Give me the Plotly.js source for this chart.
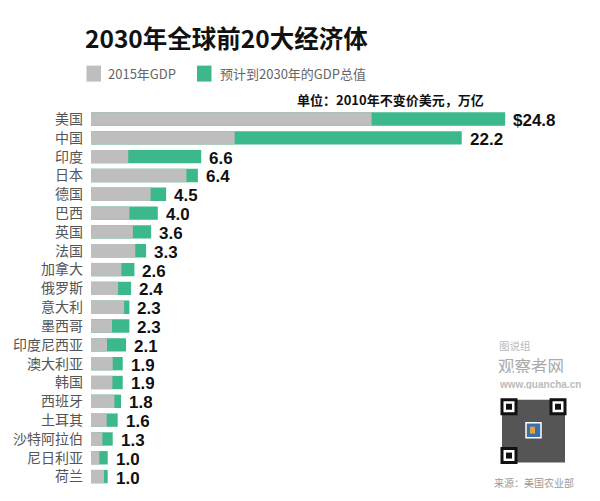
<!DOCTYPE html>
<html>
<head>
<meta charset="utf-8">
<script src="https://cdn.plot.ly/plotly-3.0.1.min.js"></script>
<style>html,body{margin:0;padding:0;background:#fff;}#chart{width:600px;height:501px;}</style>
</head>
<body>
<div id="chart"></div>
<script>
const countries = ["美国","中国","印度","日本","德国","巴西","英国","法国","加拿大","俄罗斯","意大利","墨西哥","印度尼西亚","澳大利亚","韩国","西班牙","土耳其","沙特阿拉伯","尼日利亚","荷兰"];
const gdp2015 = [16.8,8.6,2.23,5.71,3.57,2.3,2.51,2.65,1.82,1.62,1.98,1.26,0.96,1.3,1.28,1.4,0.94,0.68,0.5,0.78];
const gdp2030 = [24.8,22.2,6.6,6.4,4.5,4.0,3.6,3.3,2.6,2.4,2.3,2.3,2.1,1.9,1.9,1.8,1.6,1.3,1.0,1.0];
const valueLabels = ["$24.8","22.2","6.6","6.4","4.5","4.0","3.6","3.3","2.6","2.4","2.3","2.3","2.1","1.9","1.9","1.8","1.6","1.3","1.0","1.0"];
const legendNames = ["2015年GDP","预计到2030年的GDP总值"];

const GRAY = "#bfbebe", GREEN = "#3cb98a";
const CJK = "'Noto Sans CJK SC', 'Noto Sans', sans-serif";
const W = 600, H = 501, L = 91, R = 9, T = 108.5, B = 14.5;
const plotW = W - L - R, plotH = H - T - B;
const fx = px => (px - L) / plotW;
const fy = py => (H - B - py) / plotH;

const traces = [
  {type:"bar", orientation:"h", y:countries, x:gdp2030, name:legendNames[1],
   marker:{color:GREEN}, hoverinfo:"x+y"},
  {type:"bar", orientation:"h", y:countries, x:gdp2015, name:legendNames[0],
   marker:{color:GRAY}, hoverinfo:"x+y"}
];

const annotations = valueLabels.map((t,i)=>({
  x: gdp2030[i], y: countries[i], xref:"x", yref:"y", text:t, showarrow:false,
  xanchor:"left", yanchor:"middle", xshift:7, yshift:-1, height:16, borderpad:0,
  font:{family:"'Liberation Sans', Arial, sans-serif", size:17, color:"#111", weight:"bold"}
}));

function txt(text, px, py, opts){
  return Object.assign({text:text, x:fx(px), y:fy(py), xref:"paper", yref:"paper",
    showarrow:false, xanchor:"left", yanchor:"middle", borderpad:0}, opts);
}
annotations.push(txt(legendNames[0], 107, 73, {font:{family:CJK, size:13, color:"#666"}}));
annotations.push(txt(legendNames[1], 219, 73, {font:{family:CJK, size:13, color:"#666"}}));
annotations.push(txt("单位：2010年不变价美元，万亿", 485, 99, {xanchor:"right", font:{family:CJK, size:13, color:"#111", weight:"bold"}}));
annotations.push(txt("图说组", 498, 346, {height:11, font:{family:CJK, size:10.5, color:"#bbb"}}));
annotations.push(txt("观察者网", 497, 366, {height:15, font:{family:CJK, size:16.5, color:"#aaa"}}));
annotations.push(txt("www.guancha.cn", 498, 385, {height:9, font:{family:"'Liberation Sans Narrow', 'Liberation Sans', Arial, sans-serif", size:10, color:"#bbb", weight:"bold"}}));
annotations.push(txt("来源：美国农业部", 493, 483, {font:{family:CJK, size:10, color:"#999"}}));

function rect(x0,y0,x1,y1,fill,line){
  return {type:"rect", xref:"paper", yref:"paper", x0:fx(x0), x1:fx(x1), y0:fy(y1), y1:fy(y0),
    fillcolor:fill, line:{width:line?line.w:0, color:line?line.c:fill}, layer:"above"};
}
const shapes = [
  rect(86.5,65,101,81,GRAY),
  rect(197,65,211.5,81,GREEN),
  // QR code block approximation
  rect(502,400,565,463,"#555"),
  rect(502,400,516,414,"#fff",{w:3,c:"#111"}),
  rect(506,404,512,410,"#111"),
  rect(551,400,565,414,"#fff",{w:3,c:"#111"}),
  rect(555,404,561,410,"#111"),
  rect(502,449,516,463,"#fff",{w:3,c:"#111"}),
  rect(506,453,512,459,"#111"),
  rect(526,423,541,438,"#3a6fb0",{w:1.5,c:"#fff"}),
  rect(530,427,535,434,"#e8a23a")
];

const layout = {
  width:W, height:H, margin:{l:L, r:R, t:T, b:B, pad:0},
  paper_bgcolor:"#fff", plot_bgcolor:"#fff",
  barmode:"overlay", bargap:0.29, showlegend:false,
  title:{text:"2030年全球前20大经济体", xref:"container", yref:"container",
    x:85/W, y:1-39/H, xanchor:"left", yanchor:"middle",
    font:{family:CJK, size:24.5, color:"#111", weight:"bold"}},
  xaxis:{range:[0, plotW/16.7], visible:false, fixedrange:true},
  yaxis:{type:"category", categoryorder:"array", categoryarray:countries, autorange:"reversed",
    showgrid:false, zeroline:false, showline:false, ticks:"", ticklabelstandoff:7,
    tickfont:{family:CJK, size:14, color:"#555"}, fixedrange:true},
  annotations:annotations, shapes:shapes
};
Plotly.newPlot("chart", traces, layout, {displayModeBar:false, staticPlot:true});
</script>
</body>
</html>
